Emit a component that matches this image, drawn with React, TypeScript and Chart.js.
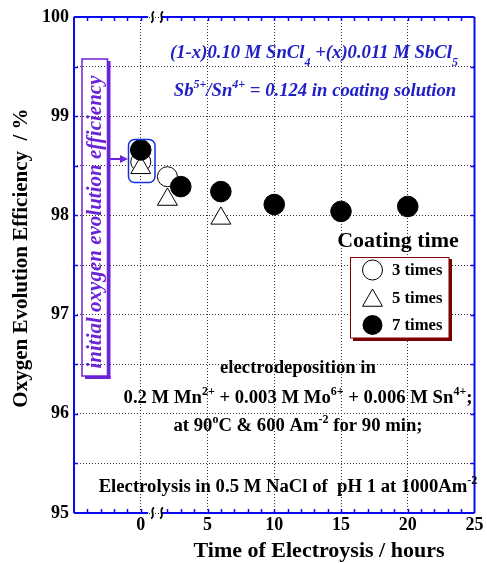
import React, { useEffect, useRef } from 'react';
import { Chart, registerables } from 'chart.js';

Chart.register(...registerables);

// ---- data ----
const seriesLabels = ['3 times', '5 times', '7 times'];
const hours3 = [0, 2];
const eff3 = [98.54, 98.39];
const hours5 = [0, 2, 6];
const eff5 = [98.48, 98.16, 97.97];
const hours7 = [0, 3, 6, 10, 15, 20];
const eff7 = [98.66, 98.29, 98.24, 98.11, 98.04, 98.09];
const xTickLabels = [0, 5, 10, 15, 20, 25];
const yTickLabels = [95, 96, 97, 98, 99, 100];

const SERIF = '"Liberation Serif", "Times New Roman", Times, serif';
const BLUE_AXIS = '#0a0aef';
const BLUE_TEXT = '#2020c8';
const PURPLE = '#6c22d8';
const DARKRED = '#7a0000';

type Seg = [string, 'n' | 'sup' | 'sub'];

function drawRich(
  ctx: CanvasRenderingContext2D,
  segs: Seg[],
  x: number,
  y: number,
  size: number,
  style: string,
  color: string,
  align: 'center' | 'left' = 'center'
) {
  const mainFont = `${style} ${size}px ${SERIF}`;
  const smallFont = `${style} ${Math.round(size * 0.65)}px ${SERIF}`;
  let w = 0;
  const widths = segs.map(([t, k]) => {
    ctx.font = k === 'n' ? mainFont : smallFont;
    const m = ctx.measureText(t).width;
    w += m;
    return m;
  });
  let cx = align === 'center' ? x - w / 2 : x;
  ctx.fillStyle = color;
  ctx.textBaseline = 'alphabetic';
  ctx.textAlign = 'left';
  segs.forEach(([t, k], i) => {
    ctx.font = k === 'n' ? mainFont : smallFont;
    const dy = k === 'sup' ? -size * 0.42 : k === 'sub' ? size * 0.42 : 0;
    ctx.fillText(t, cx, y + dy);
    cx += widths[i];
  });
}

function breakMark(ctx: CanvasRenderingContext2D, x: number, y: number) {
  ctx.save();
  ctx.strokeStyle = '#000';
  ctx.lineWidth = 1.8;
  ctx.beginPath();
  ctx.moveTo(x + 1.5, y - 5.5);
  ctx.bezierCurveTo(x - 3.5, y - 3, x + 3.5, y + 3, x - 1.5, y + 5.5);
  ctx.stroke();
  ctx.restore();
}

const overlay = {
  id: 'overlay',
  afterDraw(chart: any) {
    const ctx: CanvasRenderingContext2D = chart.ctx;
    const xs = chart.scales.x;
    const ys = chart.scales.y;
    const { left, right, top, bottom } = chart.chartArea;
    const g0 = xs.getPixelForValue(0.55);
    const g1 = xs.getPixelForValue(1.6);

    ctx.save();
    // frame
    ctx.strokeStyle = BLUE_AXIS;
    ctx.lineWidth = 2;
    ctx.beginPath();
    ctx.moveTo(left, top);
    ctx.lineTo(left, bottom);
    ctx.moveTo(right, top);
    ctx.lineTo(right, bottom);
    ctx.moveTo(left, top);
    ctx.lineTo(g0, top);
    ctx.moveTo(g1, top);
    ctx.lineTo(right, top);
    ctx.moveTo(left, bottom);
    ctx.lineTo(g0, bottom);
    ctx.moveTo(g1, bottom);
    ctx.lineTo(right, bottom);
    ctx.stroke();
    // ticks
    ctx.lineWidth = 1.5;
    ctx.beginPath();
    for (let v = -4; v <= 24; v++) {
      if (v === 1) continue;
      const px = Math.round(xs.getPixelForValue(v)) + 0.5;
      ctx.moveTo(px, top);
      ctx.lineTo(px, top + 4);
      ctx.moveTo(px, bottom);
      ctx.lineTo(px, bottom - 4);
    }
    for (let v = 95.5; v < 100; v += 0.5) {
      const py = Math.round(ys.getPixelForValue(v)) + 0.5;
      ctx.moveTo(left, py);
      ctx.lineTo(left + 4, py);
      ctx.moveTo(right, py);
      ctx.lineTo(right - 4, py);
    }
    ctx.stroke();
    // break marks
    breakMark(ctx, g0 + 4.5, top);
    breakMark(ctx, g1 - 0.5, top);
    breakMark(ctx, g0 + 4.5, bottom);
    breakMark(ctx, g1 - 0.5, bottom);

    // axis titles
    ctx.fillStyle = '#000';
    ctx.font = `bold 22px ${SERIF}`;
    ctx.textAlign = 'center';
    ctx.textBaseline = 'alphabetic';
    ctx.fillText('Time of Electroysis / hours', 319, 557);
    ctx.save();
    ctx.translate(22, 258);
    ctx.rotate(-Math.PI / 2);
    ctx.font = `bold 21px ${SERIF}`;
    ctx.textBaseline = 'middle';
    ctx.fillText('Oxygen Evolution Efficiency  / %', 0, 0);
    ctx.restore();

    // blue annotations
    drawRich(ctx, [['(1-x)0.10 M SnCl', 'n'], ['4', 'sub'], [' +(x)0.011 M SbCl', 'n'], ['5', 'sub']], 314, 58, 18.7, 'italic bold', BLUE_TEXT);
    drawRich(ctx, [['Sb', 'n'], ['5+', 'sup'], ['/Sn', 'n'], ['4+', 'sup'], [' = 0.124 in coating solution', 'n']], 315, 96, 18.7, 'italic bold', BLUE_TEXT);

    // black annotations
    drawRich(ctx, [['electrodeposition in', 'n']], 298, 373, 18.7, 'bold', '#000');
    drawRich(ctx, [['0.2 M Mn', 'n'], ['2+', 'sup'], [' + 0.003 M Mo', 'n'], ['6+', 'sup'], [' + 0.006 M Sn', 'n'], ['4+', 'sup'], [';', 'n']], 298, 403, 18.7, 'bold', '#000');
    drawRich(ctx, [['at 90', 'n'], ['o', 'sup'], ['C & 600 Am', 'n'], ['-2', 'sup'], [' for 90 min;', 'n']], 298, 431, 18.7, 'bold', '#000');
    drawRich(ctx, [['Electrolysis in 0.5 M NaCl of  pH 1 at 1000Am', 'n'], ['-2', 'sup']], 288, 492, 18.7, 'bold', '#000');

    // purple rotated box
    ctx.strokeStyle = PURPLE;
    ctx.fillStyle = PURPLE;
    ctx.lineWidth = 1.5;
    ctx.strokeRect(82, 59, 25.5, 317);
    ctx.fillRect(107, 61, 3.5, 318);
    ctx.fillRect(85, 376, 25.5, 3);
    ctx.save();
    ctx.translate(95.5, 222);
    ctx.rotate(-Math.PI / 2);
    ctx.font = `italic bold 21px ${SERIF}`;
    ctx.textAlign = 'center';
    ctx.textBaseline = 'middle';
    ctx.fillText('initial oxygen evolution efficiency', 0, 0);
    ctx.restore();
    // arrow
    ctx.lineWidth = 2;
    ctx.beginPath();
    ctx.moveTo(110, 159);
    ctx.lineTo(122, 159);
    ctx.stroke();
    ctx.beginPath();
    ctx.moveTo(128, 159);
    ctx.lineTo(120, 155);
    ctx.lineTo(120, 163);
    ctx.closePath();
    ctx.fill();

    // blue rounded rect around initial points
    ctx.strokeStyle = '#1030e0';
    ctx.lineWidth = 1.5;
    ctx.beginPath();
    (ctx as any).roundRect(128.5, 139.5, 26.5, 43, 6);
    ctx.stroke();

    // legend
    ctx.font = `bold 22px ${SERIF}`;
    ctx.fillStyle = '#000';
    ctx.textAlign = 'center';
    ctx.textBaseline = 'alphabetic';
    ctx.fillText('Coating time', 398, 247);
    ctx.fillStyle = DARKRED;
    ctx.fillRect(353, 259, 99, 82);
    ctx.fillStyle = '#fff';
    ctx.fillRect(350, 257, 99, 81);
    ctx.strokeStyle = DARKRED;
    ctx.lineWidth = 1;
    ctx.strokeRect(350.5, 257.5, 98.5, 80.5);
    const rows = [270, 298, 325];
    ctx.strokeStyle = '#000';
    ctx.lineWidth = 1;
    // 3 times
    ctx.beginPath();
    ctx.arc(372.5, rows[0], 10, 0, Math.PI * 2);
    ctx.fillStyle = '#fff';
    ctx.fill();
    ctx.stroke();
    // 5 times
    const r = 11.5;
    const cy = rows[1] + 2.5;
    ctx.beginPath();
    ctx.moveTo(372.5, cy - r);
    ctx.lineTo(372.5 + r * Math.sin((2 * Math.PI) / 3), cy - r * Math.cos((2 * Math.PI) / 3));
    ctx.lineTo(372.5 - r * Math.sin((2 * Math.PI) / 3), cy - r * Math.cos((2 * Math.PI) / 3));
    ctx.closePath();
    ctx.fill();
    ctx.stroke();
    // 7 times
    ctx.beginPath();
    ctx.arc(372.5, rows[2], 10, 0, Math.PI * 2);
    ctx.fillStyle = '#000';
    ctx.fill();
    ctx.font = `bold 16.7px ${SERIF}`;
    ctx.textAlign = 'left';
    ctx.textBaseline = 'middle';
    ctx.fillStyle = '#000';
    seriesLabels.forEach((l, i) => ctx.fillText(l, 392, rows[i] + 1));

    ctx.restore();
  },
};

export default function App() {
  const ref = useRef<HTMLCanvasElement>(null);
  useEffect(() => {
    const tickFont = { family: SERIF, size: 18, weight: 'bold' as const };
    const chart = new Chart(ref.current as HTMLCanvasElement, {
      type: 'scatter',
      data: {
        datasets: [
          {
            label: seriesLabels[0],
            data: hours3.map((x, i) => ({ x, y: eff3[i] })),
            pointStyle: 'circle',
            pointRadius: 10,
            backgroundColor: '#fff',
            borderColor: '#000',
            borderWidth: 1,
            order: 3,
          },
          {
            label: seriesLabels[1],
            data: hours5.map((x, i) => ({ x, y: eff5[i] })),
            pointStyle: 'triangle',
            pointRadius: 11.5,
            backgroundColor: '#fff',
            borderColor: '#000',
            borderWidth: 1,
            order: 2,
          },
          {
            label: seriesLabels[2],
            data: hours7.map((x, i) => ({ x, y: eff7[i] })),
            pointStyle: 'circle',
            pointRadius: 10.3,
            backgroundColor: '#000',
            borderColor: '#000',
            borderWidth: 1,
            order: 1,
          },
        ],
      },
      options: {
        animation: false,
        responsive: false,
        devicePixelRatio: 1,
        events: [],
        layout: { padding: { left: 0, top: 17, right: 11, bottom: 0 } },
        plugins: { legend: { display: false }, tooltip: { enabled: false } },
        scales: {
          x: {
            type: 'linear',
            min: -5,
            max: 25,
            ticks: {
              stepSize: 5,
              autoSkip: false,
              maxRotation: 0,
              padding: 2,
              color: '#000',
              font: tickFont,
              callback: (v: any) => (xTickLabels.includes(Number(v)) ? String(v) : ''),
            },
            grid: { color: '#333', lineWidth: 1, drawTicks: false },
            border: { display: false, dash: [1, 2] },
            afterFit: (s: any) => {
              s.height = 50;
            },
          },
          y: {
            type: 'linear',
            min: 95,
            max: 100,
            ticks: {
              stepSize: 0.5,
              autoSkip: false,
              padding: 5,
              color: '#000',
              font: tickFont,
              callback: (v: any) => (yTickLabels.includes(Number(v)) ? String(v) : ''),
            },
            grid: { color: '#333', lineWidth: 1, drawTicks: false },
            border: { display: false, dash: [1, 2] },
            afterFit: (s: any) => {
              s.width = 74;
            },
          },
        },
      },
      plugins: [overlay],
    });
    return () => chart.destroy();
  }, []);
  return (
    <div style={{ position: 'absolute', left: 0, top: 0, width: 487, height: 563, background: '#fff' }}>
      <canvas ref={ref} width={487} height={563} style={{ display: 'block' }} />
    </div>
  );
}
